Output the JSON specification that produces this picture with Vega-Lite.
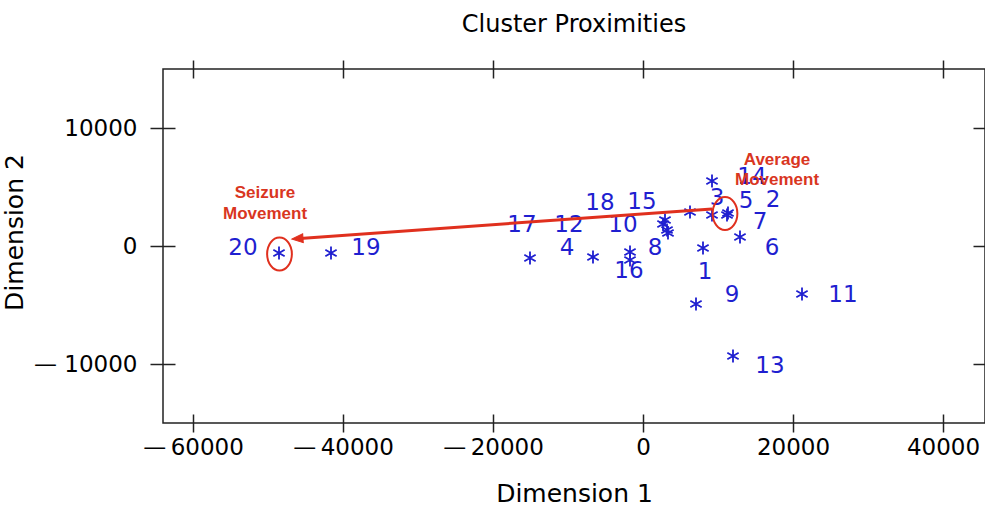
{
  "$schema": "https://vega.github.io/schema/vega-lite/v6.json",
  "autosize": {"type": "none"},
  "padding": {"left": 163, "top": 69, "right": 0, "bottom": 83},
  "width": 822,
  "height": 354,
  "background": "white",
  "config": {
    "view": {"stroke": "#222222", "strokeWidth": 1.5},
    "font": "DejaVu Sans"
  },
  "title": {
    "text": "Cluster Proximities",
    "font": "DejaVu Sans",
    "fontSize": 24,
    "fontWeight": "normal",
    "color": "#000000",
    "anchor": "middle",
    "offset": 22
  },
  "datasets": {
    "clusters": [
      {"cluster": "1", "x": 8000, "y": -170, "lx": 8267, "ly": -2200},
      {"cluster": "2", "x": 11333, "y": 2800, "lx": 17333, "ly": 3900},
      {"cluster": "3", "x": 6267, "y": 2880, "lx": 9867, "ly": 4070},
      {"cluster": "4", "x": -15067, "y": -1020, "lx": -10133, "ly": -170},
      {"cluster": "5", "x": 9200, "y": 2630, "lx": 13733, "ly": 3810},
      {"cluster": "6", "x": 12933, "y": 760, "lx": 17200, "ly": -170},
      {"cluster": "7", "x": 11200, "y": 2630, "lx": 15600, "ly": 2030},
      {"cluster": "8", "x": -1733, "y": -510, "lx": 1600, "ly": -170},
      {"cluster": "9", "x": 7067, "y": -4920, "lx": 11867, "ly": -4150},
      {"cluster": "10", "x": 2933, "y": 2200, "lx": -2667, "ly": 1780},
      {"cluster": "11", "x": 21200, "y": -4070, "lx": 26667, "ly": -4150},
      {"cluster": "12", "x": -6667, "y": -930, "lx": -9867, "ly": 1780},
      {"cluster": "13", "x": 12000, "y": -9320, "lx": 16933, "ly": -10170},
      {"cluster": "14", "x": 9200, "y": 5510, "lx": 14533, "ly": 5850},
      {"cluster": "15", "x": 3200, "y": 1360, "lx": -133, "ly": 3730},
      {"cluster": "16", "x": -1733, "y": -1190, "lx": -1867, "ly": -2120},
      {"cluster": "17", "x": 3333, "y": 1100, "lx": -16133, "ly": 1780},
      {"cluster": "18", "x": 2667, "y": 1860, "lx": -5733, "ly": 3640},
      {"cluster": "19", "x": -41600, "y": -600, "lx": -36933, "ly": -170},
      {"cluster": "20", "x": -48533, "y": -600, "lx": -53333, "ly": -170}
    ],
    "circles": [
      {"name": "seizure", "x": -48467, "y": -680},
      {"name": "average", "x": 10933, "y": 2750}
    ],
    "arrow": [
      {"x": 9200, "y": 3140, "x2": -45733, "y2": 640, "tipx": -46800, "tipy": 590}
    ],
    "notes": [
      {"x": -50400, "y": 4450, "text": "Seizure"},
      {"x": -50400, "y": 2750, "text": "Movement"},
      {"x": 17867, "y": 7290, "text": "Average"},
      {"x": 17867, "y": 5590, "text": "Movement"}
    ]
  },
  "resolve": {"axis": {"x": "independent", "y": "independent"}},
  "layer": [
    {
      "data": {"name": "clusters"},
      "mark": {"type": "text", "font": "DejaVu Sans", "fontSize": 23, "color": "#1f1fd0", "align": "center", "baseline": "middle"},
      "encoding": {
        "x": {
          "field": "lx", "type": "quantitative",
          "scale": {"domain": [-64000, 45600], "nice": false, "zero": false},
          "axis": {
            "orient": "bottom",
            "values": [-60000, -40000, -20000, 0, 20000, 40000],
            "offset": -9, "tickSize": 18, "tickWidth": 1.5, "tickColor": "#222222",
            "domain": false, "grid": false,
            "labelFont": "DejaVu Sans", "labelFontSize": 23, "labelColor": "#000000",
            "labelPadding": 4, "labelOverlap": false, "labelFlush": false,
            "labelExpr": "datum.value < 0 ? '—\u2009' + format(-datum.value, 'd') : format(datum.value, 'd')",
            "title": "Dimension 1",
            "titleFont": "DejaVu Sans", "titleFontSize": 25, "titleFontWeight": "normal", "titleColor": "#000000",
            "titlePadding": 22
          }
        },
        "y": {
          "field": "ly", "type": "quantitative",
          "scale": {"domain": [-15000, 15000], "nice": false, "zero": false},
          "axis": {
            "orient": "left",
            "values": [-10000, 0, 10000],
            "offset": -12, "tickSize": 25, "tickWidth": 1.5, "tickColor": "#222222",
            "domain": false, "grid": false,
            "labelFont": "DejaVu Sans", "labelFontSize": 23, "labelColor": "#000000",
            "labelPadding": 13, "labelOverlap": false, "labelFlush": false,
            "labelExpr": "datum.value < 0 ? '— ' + format(-datum.value, 'd') : format(datum.value, 'd')",
            "title": "Dimension 2",
            "titleFont": "DejaVu Sans", "titleFontSize": 25, "titleFontWeight": "normal", "titleColor": "#000000",
            "titlePadding": 6,
            "titleY": 163
          }
        },
        "text": {"field": "cluster", "type": "nominal"}
      }
    },
    {
      "data": {"name": "clusters"},
      "mark": {"type": "point", "shape": "M0,-1L0,1M-0.87,-0.5L0.87,0.5M-0.87,0.5L0.87,-0.5", "size": 169, "filled": false, "stroke": "#1f1fd0", "strokeWidth": 1.8, "opacity": 1},
      "encoding": {
        "x": {
          "field": "x", "type": "quantitative",
          "scale": {"domain": [-64000, 45600], "nice": false, "zero": false},
          "axis": {
            "orient": "top",
            "values": [-60000, -40000, -20000, 0, 20000, 40000],
            "offset": -9, "tickSize": 18, "tickWidth": 1.5, "tickColor": "#222222",
            "domain": false, "grid": false, "labels": false, "title": null
          }
        },
        "y": {
          "field": "y", "type": "quantitative",
          "scale": {"domain": [-15000, 15000], "nice": false, "zero": false},
          "axis": {
            "orient": "right",
            "values": [-10000, 0, 10000],
            "offset": -12, "tickSize": 25, "tickWidth": 1.5, "tickColor": "#222222",
            "domain": false, "grid": false, "labels": false, "title": null
          }
        }
      }
    },
    {
      "data": {"name": "circles"},
      "mark": {"type": "point", "shape": "M0,-1A0.75,1,0,1,1,0,1A0.75,1,0,1,1,0,-1Z", "size": 1089, "filled": false, "stroke": "#e0301e", "strokeWidth": 2, "opacity": 1},
      "encoding": {
        "x": {"field": "x", "type": "quantitative", "scale": {"domain": [-64000, 45600], "nice": false, "zero": false}, "axis": null},
        "y": {"field": "y", "type": "quantitative", "scale": {"domain": [-15000, 15000], "nice": false, "zero": false}, "axis": null}
      }
    },
    {
      "data": {"name": "arrow"},
      "mark": {"type": "rule", "stroke": "#e0301e", "strokeWidth": 3},
      "encoding": {
        "x": {"field": "x", "type": "quantitative", "scale": {"domain": [-64000, 45600], "nice": false, "zero": false}, "axis": null},
        "y": {"field": "y", "type": "quantitative", "scale": {"domain": [-15000, 15000], "nice": false, "zero": false}, "axis": null},
        "x2": {"field": "x2"},
        "y2": {"field": "y2"}
      }
    },
    {
      "data": {"name": "arrow"},
      "mark": {"type": "point", "shape": "M0,0L2,-0.8L2,0.8Z", "size": 121, "filled": true, "fill": "#e0301e", "stroke": "#e0301e", "strokeWidth": 1, "opacity": 1, "angle": 356},
      "encoding": {
        "x": {"field": "tipx", "type": "quantitative", "scale": {"domain": [-64000, 45600], "nice": false, "zero": false}, "axis": null},
        "y": {"field": "tipy", "type": "quantitative", "scale": {"domain": [-15000, 15000], "nice": false, "zero": false}, "axis": null}
      }
    },
    {
      "data": {"name": "notes"},
      "mark": {"type": "text", "font": "Liberation Sans", "fontSize": 17, "fontWeight": "bold", "color": "#d9361f", "align": "center", "baseline": "middle"},
      "encoding": {
        "x": {"field": "x", "type": "quantitative", "scale": {"domain": [-64000, 45600], "nice": false, "zero": false}, "axis": null},
        "y": {"field": "y", "type": "quantitative", "scale": {"domain": [-15000, 15000], "nice": false, "zero": false}, "axis": null},
        "text": {"field": "text", "type": "nominal"}
      }
    }
  ]
}
